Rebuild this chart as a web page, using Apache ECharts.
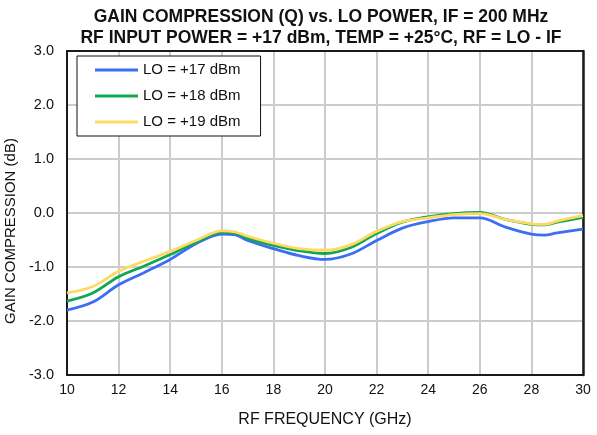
<!DOCTYPE html>
<html>
<head>
<meta charset="utf-8">
<script src="https://cdn.jsdelivr.net/npm/echarts@6/dist/echarts.min.js"></script>
<style>
  html, body { margin: 0; padding: 0; background: #fff; }
  #chart { width: 597px; height: 435px; }
</style>
</head>
<body>
<div id="chart"></div>
<script>
// RF frequency sample points (GHz)
const freqGHz = [10, 11, 12, 13, 14, 15, 16, 16.5, 17, 18, 19, 20, 21, 22, 23, 24, 25, 26, 27, 28, 28.5, 29, 30];

// Gain compression (dB) for each LO drive level
const lo17 = [-1.80, -1.65, -1.33, -1.10, -0.86, -0.57, -0.39, -0.40, -0.51, -0.66, -0.79, -0.86, -0.76, -0.51, -0.28, -0.16, -0.09, -0.09, -0.26, -0.39, -0.41, -0.37, -0.30];
const lo18 = [-1.63, -1.48, -1.18, -0.98, -0.77, -0.54, -0.36, -0.37, -0.47, -0.60, -0.70, -0.75, -0.64, -0.38, -0.17, -0.07, -0.01, 0.01, -0.12, -0.21, -0.22, -0.17, -0.08];
const lo19 = [-1.48, -1.36, -1.08, -0.89, -0.71, -0.51, -0.33, -0.35, -0.43, -0.56, -0.66, -0.69, -0.59, -0.34, -0.16, -0.09, -0.03, -0.01, -0.12, -0.20, -0.21, -0.15, -0.05];

const seriesNames = ['LO = +17 dBm', 'LO = +18 dBm', 'LO = +19 dBm'];
const seriesColors = ['#3b6ef5', '#10a84e', '#ffd966'];

const titleLines = [
  'GAIN COMPRESSION (Q) vs. LO POWER, IF = 200 MHz',
  'RF INPUT POWER = +17 dBm, TEMP = +25\u00B0C, RF = LO - IF'
];
const xAxisTitle = 'RF FREQUENCY (GHz)';
const yAxisTitle = 'GAIN COMPRESSION (dB)';

const FONT = '"Liberation Sans", Arial, Helvetica, sans-serif';
const GRID_COLOR = '#cccccc';
const FRAME_COLOR = '#1a1a1a';

function pairs(ys) {
  return freqGHz.map((f, i) => [f, ys[i]]);
}

const chart = echarts.init(document.getElementById('chart'), null, { renderer: 'canvas' });

chart.setOption({
  animation: false,
  backgroundColor: '#ffffff',
  title: {
    text: titleLines.join('\n'),
    left: 321,
    textAlign: 'center',
    top: 6,
    padding: 0,
    textStyle: {
      fontFamily: FONT,
      fontWeight: 'bold',
      fontSize: 17.5,
      lineHeight: 21.6,
      color: '#111'
    }
  },
  grid: {
    left: 67,
    right: 14,
    top: 51,
    height: 324,
    containLabel: false,
    outerBoundsMode: 'none'
  },
  legend: {
    orient: 'vertical',
    left: 77,
    top: 56,
    padding: [6, 20, 6, 18],
    itemGap: 10,
    itemWidth: 43,
    itemHeight: 3,
    icon: 'rect',
    borderColor: '#111',
    borderWidth: 1,
    backgroundColor: '#fff',
    textStyle: {
      fontFamily: FONT,
      fontSize: 15,
      lineHeight: 16,
      color: '#111'
    },
    data: seriesNames
  },
  xAxis: [{
    type: 'value',
    min: 10,
    max: 30,
    interval: 2,
    name: xAxisTitle,
    nameLocation: 'middle',
    nameGap: 37,
    nameTextStyle: { fontFamily: FONT, fontSize: 16, color: '#111' },
    axisLine: { show: true, onZero: false, lineStyle: { color: FRAME_COLOR, width: 2 } },
    axisTick: { show: false },
    axisLabel: { fontFamily: FONT, fontSize: 14, color: '#111', margin: 8 },
    splitLine: { show: true, lineStyle: { color: GRID_COLOR, width: 2 } }
  }, {
    // top edge of the plot frame
    type: 'value',
    position: 'top',
    min: 10,
    max: 30,
    interval: 2,
    axisLine: { show: true, onZero: false, lineStyle: { color: FRAME_COLOR, width: 2 } },
    axisTick: { show: false },
    axisLabel: { show: false },
    splitLine: { show: false }
  }],
  yAxis: [{
    type: 'value',
    min: -3,
    max: 3,
    interval: 1,
    name: yAxisTitle,
    nameLocation: 'middle',
    nameGap: 47,
    nameRotate: 90,
    nameTextStyle: { fontFamily: FONT, fontSize: 15, color: '#111', padding: [0, 36, 0, 0] },
    axisLine: { show: true, onZero: false, lineStyle: { color: FRAME_COLOR, width: 2 } },
    axisTick: { show: false },
    axisLabel: {
      fontFamily: FONT,
      fontSize: 14.5,
      color: '#111',
      margin: 13,
      formatter: v => v.toFixed(1)
    },
    splitLine: { show: true, lineStyle: { color: GRID_COLOR, width: 2 } }
  }, {
    // right edge of the plot frame
    type: 'value',
    position: 'right',
    min: -3,
    max: 3,
    interval: 1,
    axisLine: { show: true, onZero: false, lineStyle: { color: FRAME_COLOR, width: 2.5 } },
    axisTick: { show: false },
    axisLabel: { show: false },
    splitLine: { show: false }
  }],
  series: [lo17, lo18, lo19].map((ys, i) => ({
    name: seriesNames[i],
    type: 'line',
    data: pairs(ys),
    smooth: 0.35,
    showSymbol: false,
    symbol: 'none',
    color: seriesColors[i],
    lineStyle: { color: seriesColors[i], width: 2.8 },
    z: 3 + i
  }))
});
</script>
</body>
</html>
